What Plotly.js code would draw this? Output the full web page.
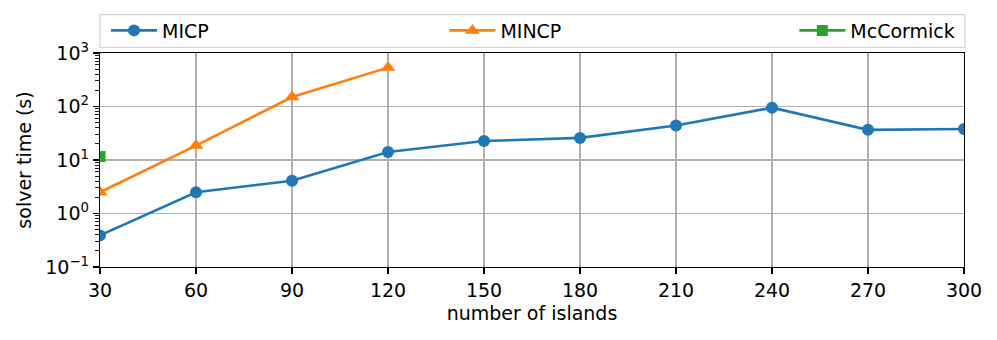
<!DOCTYPE html>
<html>
<head>
<meta charset="utf-8">
<script src="https://cdn.plot.ly/plotly-3.0.1.min.js"></script>
<style>
  html, body { margin: 0; padding: 0; background: #fff; }
  #chart { width: 997px; height: 340px; }
</style>
</head>
<body>
<div id="chart"></div>
<script>
// solver time against number of islands
const islands = [30, 60, 90, 120, 150, 180, 210, 240, 270, 300];
const micpTime = [0.39, 2.5, 4.1, 14.1, 22.6, 25.9, 44, 95, 36.6, 38];
const mincpIslands = [30, 60, 90, 120];
const mincpTime = [2.5, 18.6, 150, 533];
const mccormickIslands = [30];
const mccormickTime = [11.6];
const yTickVals = [0.1, 1, 10, 100, 1000];
const yTickText = ['10<sup>\u22121</sup>', '10<sup>0</sup>', '10<sup>1</sup>', '10<sup>2</sup>', '10<sup>3</sup>'];

const font = { family: 'DejaVu Sans, sans-serif', size: 19, color: '#000' };

const data = [
  {
    type: 'scatter',
    mode: 'lines+markers',
    name: 'MICP',
    x: islands,
    y: micpTime,
    line: { color: '#1f77b4', width: 2.6 },
    marker: { symbol: 'circle', size: 12, color: '#1f77b4' },
    legend: 'legend'
  },
  {
    type: 'scatter',
    mode: 'lines+markers',
    name: 'MINCP',
    x: mincpIslands,
    y: mincpTime,
    line: { color: '#ff7f0e', width: 2.6 },
    marker: { symbol: 'triangle-up', size: 13, color: '#ff7f0e' },
    legend: 'legend2'
  },
  {
    type: 'scatter',
    mode: 'lines+markers',
    name: 'McCormick',
    x: mccormickIslands,
    y: mccormickTime,
    line: { color: '#2ca02c', width: 2.6 },
    marker: { symbol: 'square', size: 11, color: '#2ca02c' },
    legend: 'legend3'
  }
];

const legendBase = {
  orientation: 'h',
  yanchor: 'middle',
  y: 1.105,
  xanchor: 'left',
  itemwidth: 46,
  bgcolor: 'rgba(0,0,0,0)',
  borderwidth: 0,
  font: font
};

const layout = {
  width: 997,
  height: 340,
  margin: { l: 100, r: 33, t: 53, b: 73 },
  paper_bgcolor: '#fff',
  plot_bgcolor: '#fff',
  font: font,
  showlegend: true,
  legend: Object.assign({}, legendBase, { x: 0.007 }),
  legend2: Object.assign({}, legendBase, { x: 0.3986 }),
  legend3: Object.assign({}, legendBase, { x: 0.8036 }),
  xaxis: {
    range: [30, 300],
    tickvals: islands,
    showgrid: true,
    gridcolor: '#b0b0b0',
    gridwidth: 1.1,
    zeroline: false,
    showline: true,
    linecolor: '#000',
    linewidth: 1.2,
    mirror: true,
    ticks: 'outside',
    ticklen: 6,
    tickwidth: 1.2,
    tickcolor: '#000',
    tickfont: font,
    title: { text: 'number of islands', font: font, standoff: 6 }
  },
  yaxis: {
    type: 'log',
    range: [-1, 3],
    tickmode: 'array',
    tickvals: yTickVals,
    ticktext: yTickText,
    showgrid: true,
    gridcolor: '#b0b0b0',
    gridwidth: 1.1,
    zeroline: false,
    showline: true,
    linecolor: '#000',
    linewidth: 1.2,
    mirror: true,
    ticks: 'outside',
    ticklen: 6,
    tickwidth: 1.2,
    tickcolor: '#000',
    tickfont: font,
    minor: { ticks: 'outside', ticklen: 3.5, tickwidth: 0.9, tickcolor: '#000', showgrid: false, dtick: 'D1' },
    title: { text: 'solver time (s)', font: font, standoff: 8 }
  },
  shapes: [
    {
      type: 'rect',
      xref: 'paper', yref: 'paper',
      x0: 0.0, x1: 1.0012, y0: 1.0257, y1: 1.1797,
      line: { color: '#d0d0d0', width: 1.2 },
      fillcolor: 'rgba(255,255,255,0.8)',
      layer: 'below'
    }
  ]
};

Plotly.newPlot('chart', data, layout, { displayModeBar: false, staticPlot: true });
</script>
</body>
</html>
